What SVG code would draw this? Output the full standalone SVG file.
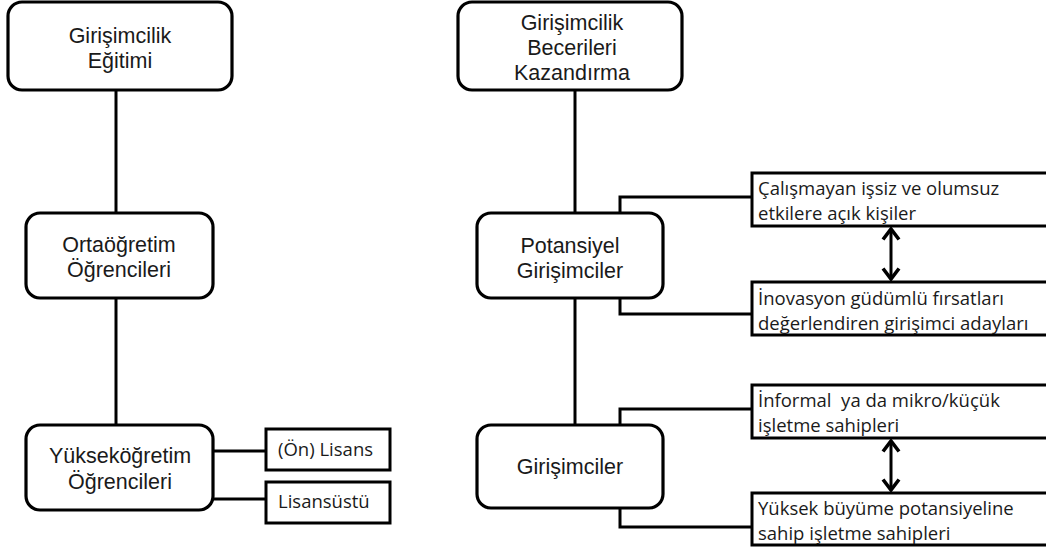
<svg xmlns="http://www.w3.org/2000/svg" width="1046" height="551" viewBox="0 0 1046 551">
<defs>
<style>
.node{fill:#fff;stroke:#000;stroke-width:3.2}
.box{fill:#fff;stroke:#000;stroke-width:3}
.t{font-family:"Liberation Sans",Arial,sans-serif;font-size:21.5px;fill:#1a1a1a;text-anchor:middle}
.s{font-family:"Open Sans","Noto Sans",sans-serif;font-size:18.5px;fill:#1a1a1a;white-space:pre}
.c{fill:none;stroke:#000;stroke-width:3}
.a{fill:none;stroke:#000;stroke-width:3;marker-start:url(#chev);marker-end:url(#chev)}
</style>
<marker id="chev" viewBox="0 0 14 20" markerWidth="14" markerHeight="20" refX="12" refY="10" orient="auto-start-reverse" markerUnits="userSpaceOnUse">
<path d="M1.5,2 L12,10 L1.5,18" fill="none" stroke="#000" stroke-width="3.6"/>
</marker>
</defs>
<rect width="1046" height="551" fill="#fff"/>
<g id="connectors">
<line class="c" x1="116" y1="90" x2="116" y2="213"/>
<line class="c" x1="116" y1="298" x2="116" y2="425"/>
<line class="c" x1="213" y1="451" x2="266" y2="451"/>
<line class="c" x1="213" y1="499" x2="266" y2="499"/>
<line class="c" x1="575" y1="90" x2="575" y2="213"/>
<line class="c" x1="575" y1="298" x2="575" y2="425"/>
<polyline class="c" points="620,213 620,197 752,197"/>
<polyline class="c" points="620,298 620,314 752,314"/>
<polyline class="c" points="620,425 620,409 752,409"/>
<polyline class="c" points="620,508 620,527 752,527"/>
<line class="a" x1="891" y1="229" x2="891" y2="279"/>
<line class="a" x1="891" y1="441" x2="891" y2="490"/>
</g>
<g id="n-egitim">
<rect class="node" x="8" y="2" width="224" height="88" rx="14"/>
<text class="t" x="120" y="43">Girişimcilik</text>
<text class="t" x="120" y="68">Eğitimi</text>
</g>
<g id="n-ortaogretim">
<rect class="node" x="26" y="213" width="187" height="85" rx="14"/>
<text class="t" x="119" y="252">Ortaöğretim</text>
<text class="t" x="119" y="277">Öğrencileri</text>
</g>
<g id="n-yuksekogretim">
<rect class="node" x="26" y="425" width="187" height="85" rx="14"/>
<text class="t" x="120" y="463">Yükseköğretim</text>
<text class="t" x="120" y="489">Öğrencileri</text>
</g>
<g id="n-onlisans">
<rect class="box" x="266" y="429" width="124" height="41"/>
<text class="s" x="278" y="456">(Ön) Lisans</text>
</g>
<g id="n-lisansustu">
<rect class="box" x="266" y="482" width="124" height="41"/>
<text class="s" x="278" y="508">Lisansüstü</text>
</g>
<g id="n-beceri">
<rect class="node" x="458" y="2" width="224" height="88" rx="14"/>
<text class="t" x="572" y="30">Girişimcilik</text>
<text class="t" x="572" y="55">Becerileri</text>
<text class="t" x="572" y="80">Kazandırma</text>
</g>
<g id="n-potansiyel">
<rect class="node" x="477" y="213" width="186" height="85" rx="14"/>
<text class="t" x="570" y="253">Potansiyel</text>
<text class="t" x="570" y="278">Girişimciler</text>
</g>
<g id="n-girisimciler">
<rect class="node" x="477" y="425" width="186" height="83" rx="14"/>
<text class="t" x="570" y="474">Girişimciler</text>
</g>
<g id="n-calismayan">
<rect class="box" x="752" y="173" width="300" height="53"/>
<text class="s" x="758" y="195">Çalışmayan işsiz ve olumsuz</text>
<text class="s" x="758" y="220">etkilere açık kişiler</text>
</g>
<g id="n-inovasyon">
<rect class="box" x="752" y="282" width="300" height="53"/>
<text class="s" x="758" y="305">İnovasyon güdümlü fırsatları</text>
<text class="s" x="758" y="330">değerlendiren girişimci adayları</text>
</g>
<g id="n-informal">
<rect class="box" x="752" y="385" width="300" height="53"/>
<text class="s" x="758" y="407">İnformal  ya da mikro/küçük</text>
<text class="s" x="758" y="432">işletme sahipleri</text>
</g>
<g id="n-yuksek">
<rect class="box" x="752" y="493" width="300" height="52"/>
<text class="s" x="758" y="515">Yüksek büyüme potansiyeline</text>
<text class="s" x="758" y="540">sahip işletme sahipleri</text>
</g>
</svg>
